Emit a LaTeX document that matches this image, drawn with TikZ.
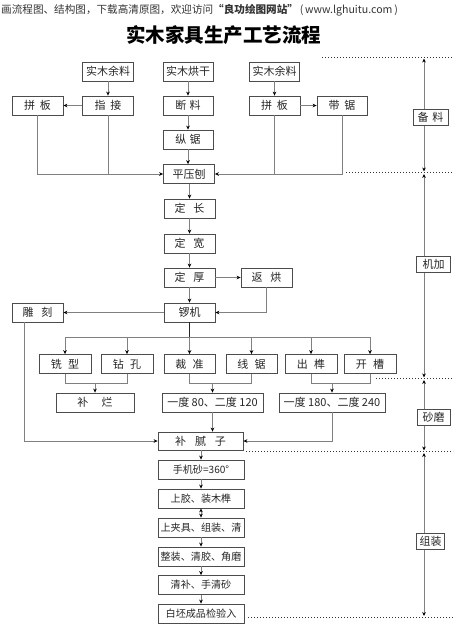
\documentclass[tikz,border=0pt]{standalone}
\usepackage{fontspec}
\setmainfont{Noto Sans CJK SC}
\usetikzlibrary{arrows.meta}
\newcommand\gp[1]{\hspace{#1em}}
\begin{document}
\begin{tikzpicture}[x=1pt,y=-1pt,
  box/.style={draw=black!70, line width=0.8pt, fill=white, minimum height=19pt, inner sep=0pt, font=\fontsize{11}{13}\selectfont, text=black!85},
  sbox/.style={box, font=\fontsize{10.1}{12}\selectfont},
  ln/.style={draw=black!50, line width=0.8pt},
  arr/.style={ln, -{Stealth[length=4pt,width=3.6pt,color=black]}},
  darr/.style={ln, {Stealth[length=4pt,width=3.6pt,color=black]}-{Stealth[length=4pt,width=3.6pt,color=black]}},
  dot/.style={draw=black!80, line width=0.9pt, dash pattern=on 0.9pt off 2.1pt},
  lab/.style={draw=black!70, line width=0.8pt, fill=white, minimum height=16pt, inner sep=0pt, font=\fontsize{11}{13}\selectfont, text=black!85}
]
\useasboundingbox (0,0) rectangle (453,624);

% header and title
\node[anchor=west, inner sep=0pt, font=\fontsize{10.6}{12}\selectfont, text=black!80] (hdr) at (1,10)
  {画流程图、结构图，下载高清原图，欢迎访问\textbf{“良功绘图网站”}\,(\,www.lghuitu.com\,)};
\node[inner sep=0pt, font=\fontsize{19.5}{22}\selectfont\bfseries] (title) at (223.5,35) {实木家具生产工艺流程};

% top sources
\node[box, minimum width=51pt] (s1) at (108,71.5) {实木余料};
\node[box, minimum width=50pt] (s2) at (188,71.5) {实木烘干};
\node[box, minimum width=50pt] (s3) at (274.5,71.5) {实木余料};

\node[box, minimum width=51pt] (p1) at (37.5,105.5) {拼\gp{0.45}板};
\node[box, minimum width=51pt] (zj) at (108,105.5) {指\gp{0.45}接};
\node[box, minimum width=50pt] (dl) at (188,105.5) {断\gp{0.3}料};
\node[box, minimum width=51pt] (p2) at (274.5,105.5) {拼\gp{0.45}板};
\node[box, minimum width=50pt] (dj) at (342,105.5) {带\gp{0.45}锯};
\node[box, minimum width=50pt] (zju) at (188,139.5) {纵\gp{0.3}锯};
\node[box, minimum width=51pt] (pyb) at (189,174) {平压刨};

% main column
\node[box, minimum width=51pt] (dc) at (189.5,208.5) {定\gp{0.7}长};
\node[box, minimum width=51pt] (dk) at (189.5,243.5) {定\gp{0.7}宽};
\node[box, minimum width=51pt] (dh) at (189.5,277.5) {定\gp{0.7}厚};
\node[box, minimum width=51pt] (fh) at (266.5,277.5) {返\gp{0.7}烘};
\node[box, minimum width=51pt] (lj) at (189.5,312.5) {锣机};
\node[box, minimum width=51pt] (dk2) at (37.5,312.5) {雕\gp{0.7}刻};

% process row
\node[box, minimum width=52pt] (xx) at (65,364) {铣\gp{0.55}型};
\node[box, minimum width=52pt] (zk) at (127,364) {钻\gp{0.55}孔};
\node[box, minimum width=51pt] (cz) at (189.5,364) {裁\gp{0.55}准};
\node[box, minimum width=51pt] (xj) at (251.5,364) {线\gp{0.55}锯};
\node[box, minimum width=52pt] (cs) at (311,364) {出\gp{0.55}榫};
\node[box, minimum width=52pt] (kc) at (370,364) {开\gp{0.55}槽};

\node[box, minimum width=78pt] (bl) at (95,402.5) {补\gp{1.2}烂};
\node[box, minimum width=101pt] (y1) at (212.5,402.5) {一度 80、二度 120};
\node[box, minimum width=106pt] (y2) at (332,402.5) {一度 180、二度 240};
\node[box, minimum width=85pt, minimum height=18pt] (bnz) at (200.5,441) {补\gp{0.8}腻\gp{0.8}子};

% bottom column
\node[sbox, minimum width=86pt] (sj) at (201,469.5) {手机砂=360°};
\node[sbox, minimum width=86pt] (sg) at (201,498.5) {上胶、装木榫};
\node[sbox, minimum width=86pt] (sjj) at (201,527.5) {上夹具、组装、清};
\node[sbox, minimum width=86pt] (zz) at (201,556.5) {整装、清胶、角磨};
\node[sbox, minimum width=86pt] (qb) at (201,585) {清补、手清砂};
\node[sbox, minimum width=86pt] (bp) at (201,613.5) {白坯成品检验入};

% connectors top
\draw[arr] (s1.south) -- (zj.north);
\draw[arr] (zj.west) -- (p1.east);
\draw[arr] (s2.south) -- (dl.north);
\draw[arr] (dl.south) -- (zju.north);
\draw[arr] (zju.south) -- (zju.south |- pyb.north);
\draw[arr] (s3.south) -- (p2.north);
\draw[arr] (p2.east) -- (dj.west);
\draw[arr] (p1.south) |- (pyb.west);
\draw[ln] (zj.south) -- (zj.south |- pyb.west);
\draw[arr] (dj.south) |- (pyb.east);
\draw[ln] (p2.south) -- (p2.south |- pyb.east);

% main column connectors
\draw[arr] (pyb.south -| dc) -- (dc.north);
\draw[arr] (dc.south) -- (dk.north);
\draw[arr] (dk.south) -- (dh.north);
\draw[arr] (dh.south) -- (lj.north);
\draw[arr] (dh.east) -- (fh.west);
\draw[arr] (fh.south) |- (lj.east);
\draw[arr] (lj.west) -- (dk2.east);

% bus
\coordinate (bus) at (189.5,337);
\draw[draw=black!85, line width=0.9pt] (lj.south) -- (bus);
\draw[ln] (xx.north |- bus) -- (kc.north |- bus);
\foreach \n in {xx,zk,cz,xj,cs,kc} { \draw[arr] (\n.north |- bus) -- (\n.north); }

% row joins
\coordinate (jn) at (0,383);
\draw[ln] (xx.south) |- (zk.south |- jn) -- (zk.south);
\draw[arr] (bl.north |- jn) -- (bl.north);
\draw[ln] (cz.south) |- (xj.south |- jn) -- (xj.south);
\draw[arr] (y1.north |- jn) -- (y1.north);
\draw[ln] (cs.south) |- (kc.south |- jn) -- (kc.south);
\draw[arr] (y2.north |- jn) -- (y2.north);

% to 补腻子
\draw[arr] (y1.south) -- (y1.south |- bnz.north);
\draw[arr] (y2.south) |- (bnz.east);
\draw[arr] ([xshift=-13.5pt]dk2.south) |- (bnz.west);

% bottom chain
\draw[arr] (bnz.south -| sj) -- (sj.north);
\draw[arr] (sj.south) -- (sg.north);
\draw[darr] (sg.south) -- (sjj.north);
\draw[arr] (sjj.south) -- (zz.north);
\draw[arr] (zz.south) -- (qb.north);
\draw[arr] (qb.south) -- (bp.north);

% stage markers
\coordinate (d1a) at (322,57);   \coordinate (d1b) at (453,57);
\coordinate (d2a) at (346,172.5); \coordinate (d2b) at (453,172.5);
\coordinate (d3a) at (376,378.5); \coordinate (d3b) at (453,378.5);
\coordinate (d4a) at (246,451.5); \coordinate (d4b) at (453,451.5);
\coordinate (d5a) at (248,617);  \coordinate (d5b) at (453,617);
\foreach \a/\b in {d1a/d1b,d2a/d2b,d3a/d3b,d4a/d4b,d5a/d5b} { \draw[dot] (\a) -- (\b); }

\coordinate (v1a) at (424,58.5);  \coordinate (v1b) at (424,171.5);
\coordinate (v2a) at (424,174);  \coordinate (v2b) at (424,377.5);
\coordinate (v3a) at (424,380);  \coordinate (v3b) at (424,450.5);
\coordinate (v4a) at (424,453);  \coordinate (v4b) at (424,616);
\draw[darr] (v1a) -- (v1b);
\draw[darr] (v2a) -- (v2b);
\draw[darr] (v3a) -- (v3b);
\draw[darr] (v4a) -- (v4b);

\node[lab, minimum width=35pt] (bl1) at (430.5,117.5) {备\gp{0.35}料};
\node[lab, minimum width=34pt] (bl2) at (433.5,264.5) {机加};
\node[lab, minimum width=33pt] (bl3) at (433.5,417) {砂磨};
\node[lab, minimum width=28pt] (bl4) at (430.5,541) {组装};
\end{tikzpicture}
\end{document}
